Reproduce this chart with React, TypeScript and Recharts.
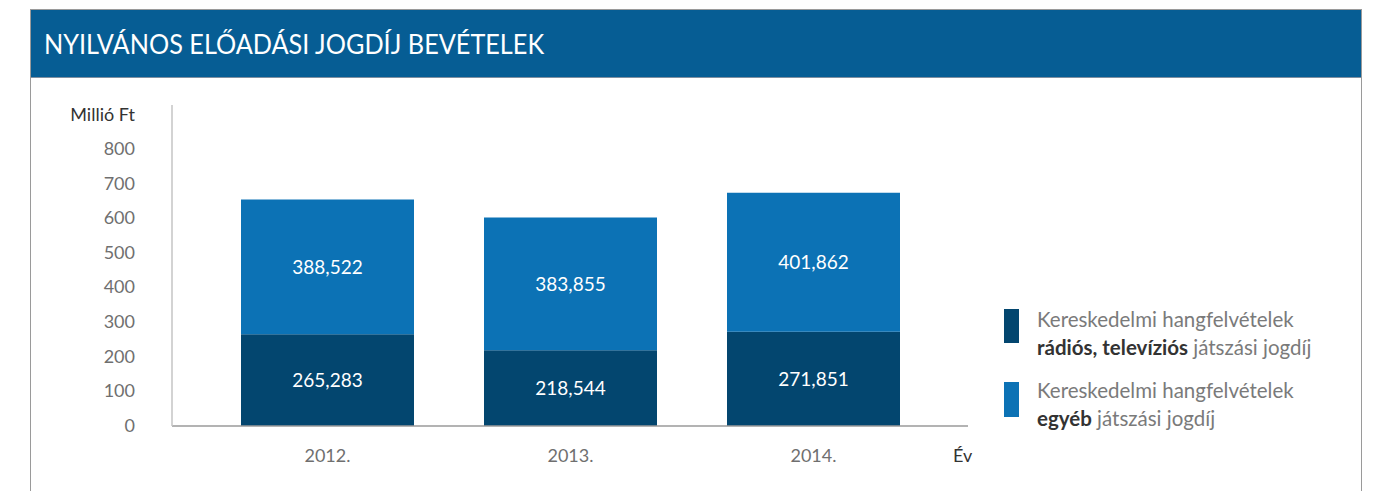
import * as React from "react"
import { BarChart, Bar, XAxis, YAxis, LabelList } from "recharts"

const years = ["2012.", "2013.", "2014."]
const radioTv = [265.283, 218.544, 271.851]
const other = [388.522, 383.855, 401.862]
const yTicks = [0, 100, 200, 300, 400, 500, 600, 700, 800]

const DARK = "#03466f"
const LIGHT = "#0c72b5"
const TITLE_BG = "#065d94"
const FONT = "Lato, 'Open Sans', sans-serif"

const data = years.map((year, i) => ({ year, radioTv: radioTv[i], other: other[i] }))

const fmt = (v: any) => Number(v).toFixed(3).replace(".", ",")

function YTick({ x, y, payload }: any) {
  return (
    <text x={x - 29} y={y} dy={6} textAnchor="end" fill="#6f6f6f" fontSize={18} fontFamily={FONT}>
      {payload.value}
    </text>
  )
}

function XTick({ x, y, payload }: any) {
  return (
    <text x={x} y={y} dy={28} textAnchor="middle" fill="#6f6f6f" fontSize={18} fontFamily={FONT}>
      {payload.value}
    </text>
  )
}

export default function App() {
  return (
    <div style={{ position: "absolute", left: 0, top: 0, width: 1373, height: 491, background: "#fff", fontFamily: FONT }}>
      {/* frame */}
      <div
        style={{
          position: "absolute",
          left: 30,
          top: 9,
          width: 1330,
          height: 500,
          borderLeft: "1px solid #9a9a9a",
          borderRight: "1px solid #9a9a9a",
          borderTop: "1px solid #9a9a9a",
        }}
      />
      <div
        style={{
          position: "absolute",
          left: 31,
          top: 10,
          width: 1330,
          height: 68,
          background: TITLE_BG,
          borderBottom: "1px solid #7f8fa0",
          color: "#fff",
          fontSize: 27,
          lineHeight: "68px",
          paddingLeft: 13,
          boxSizing: "border-box",
          whiteSpace: "nowrap",
        }}
      >
        <span style={{ display: "inline-block", transform: "scaleX(0.935)", transformOrigin: "left center" }}>
          NYILVÁNOS ELŐADÁSI JOGDÍJ BEVÉTELEK
        </span>
      </div>

      <div style={{ position: "absolute", left: 0, top: 0 }}>
        <BarChart
          width={1373}
          height={491}
          data={data}
          margin={{ top: 105, right: 405, bottom: 35, left: 0 }}
          barCategoryGap={70}
        >
          <XAxis
            dataKey="year"
            tick={<XTick />}
            tickLine={false}
            axisLine={{ stroke: "#9a9a9a", strokeWidth: 1.5 }}
            padding={{ left: 34, right: 33 }}
          />
          <YAxis
            width={172}
            domain={[0, 927]}
            ticks={yTicks}
            tick={<YTick />}
            tickLine={false}
            axisLine={{ stroke: "#c4c4c4", strokeWidth: 1.5 }}
            allowDataOverflow
          />
          <Bar dataKey="radioTv" stackId="a" fill={DARK} barSize={173} isAnimationActive={false}>
            <LabelList dataKey="radioTv" position="center" fill="#fff" fontSize={19} fontFamily={FONT} formatter={fmt} />
          </Bar>
          <Bar dataKey="other" stackId="a" fill={LIGHT} barSize={173} isAnimationActive={false}>
            <LabelList dataKey="other" position="center" fill="#fff" fontSize={19} fontFamily={FONT} formatter={fmt} />
          </Bar>
          <text x={135} y={121} textAnchor="end" fill="#333" fontSize={18} fontFamily={FONT}>
            Millió Ft
          </text>
          <text x={953} y={462} textAnchor="start" fill="#333" fontSize={18} fontFamily={FONT}>
            Év
          </text>
        </BarChart>
      </div>

      {/* legend */}
      <div style={{ position: "absolute", left: 1004, top: 309, width: 15, height: 34, background: DARK }} />
      <div style={{ position: "absolute", left: 1037, top: 305, fontSize: 20.5, lineHeight: "28px", color: "#7a7a7a", whiteSpace: "nowrap" }}>
        <div>Kereskedelmi hangfelvételek</div>
        <div>
          <b style={{ color: "#333" }}>rádiós, televíziós</b> játszási jogdíj
        </div>
      </div>
      <div style={{ position: "absolute", left: 1004, top: 382, width: 15, height: 35, background: LIGHT }} />
      <div style={{ position: "absolute", left: 1037, top: 376, fontSize: 20.5, lineHeight: "28px", color: "#7a7a7a", whiteSpace: "nowrap" }}>
        <div>Kereskedelmi hangfelvételek</div>
        <div>
          <b style={{ color: "#333" }}>egyéb</b> játszási jogdíj
        </div>
      </div>
    </div>
  )
}
